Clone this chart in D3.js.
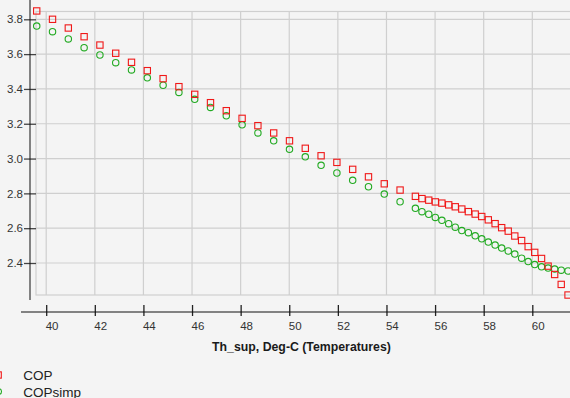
<!DOCTYPE html>
<html>
<head>
<meta charset="utf-8">
<script src="https://cdn.jsdelivr.net/npm/d3@7"></script>
<style>
  html, body { margin: 0; padding: 0; background: #f4f4f4; }
  svg { display: block; }
  text { font-family: "Liberation Sans", Arial, sans-serif; }
</style>
</head>
<body>
<div id="chart"></div>
<script>
// Th_sup, Deg-C
const temps = [
  39.61, 40.26, 40.91, 41.56, 42.21, 42.86, 43.51, 44.16, 44.81, 45.46, 46.11, 46.76,
  47.41, 48.06, 48.71, 49.36, 50.01, 50.66, 51.31, 51.96, 52.61, 53.26, 53.91, 54.56,
  55.19, 55.46, 55.74, 56.01, 56.28, 56.56, 56.83, 57.10, 57.37, 57.65, 57.92, 58.19,
  58.47, 58.74, 59.01, 59.28, 59.56, 59.83, 60.10, 60.38, 60.65, 60.92, 61.19, 61.47
];
const cop = [
  3.848, 3.800, 3.750, 3.700, 3.652, 3.605, 3.553, 3.505, 3.459, 3.413, 3.369, 3.321,
  3.275, 3.231, 3.189, 3.147, 3.102, 3.059, 3.016, 2.978, 2.938, 2.895, 2.855, 2.819,
  2.783, 2.770, 2.761, 2.751, 2.744, 2.734, 2.723, 2.710, 2.695, 2.681, 2.667, 2.648,
  2.626, 2.603, 2.583, 2.555, 2.529, 2.494, 2.461, 2.426, 2.382, 2.334, 2.277, 2.216
];
const copSimp = [
  3.761, 3.729, 3.687, 3.637, 3.595, 3.551, 3.509, 3.464, 3.421, 3.380, 3.340, 3.294,
  3.246, 3.194, 3.147, 3.102, 3.053, 3.010, 2.961, 2.917, 2.875, 2.838, 2.796, 2.752,
  2.714, 2.695, 2.680, 2.662, 2.645, 2.626, 2.606, 2.586, 2.574, 2.556, 2.539, 2.520,
  2.503, 2.486, 2.469, 2.451, 2.428, 2.408, 2.391, 2.378, 2.371, 2.365, 2.359, 2.354
];
const xTicks = [40, 42, 44, 46, 48, 50, 52, 54, 56, 58, 60];
const yTicks = [2.4, 2.6, 2.8, 3.0, 3.2, 3.4, 3.6, 3.8];
const seriesNames = ["COP", "COPsimp"];

const W = 570, H = 398;
const red = "#f01818", green = "#22aa22";

const svg = d3.select("#chart").append("svg")
  .attr("width", W).attr("height", H);

svg.append("rect").attr("width", W).attr("height", H).attr("fill", "#f4f4f4");

const x = d3.scaleLinear().domain([40, 60]).range([46.2, 532.3]);
const y = d3.scaleLinear().domain([2.4, 3.8]).range([263, 19.3]);

const plot = { left: 36, top: 11.5, bottom: 295 };

// grid
const grid = svg.append("g").attr("stroke", "#cfcfcf").attr("stroke-width", 1.2);
grid.selectAll(".gx").data(xTicks).enter().append("line")
  .attr("x1", d => x(d)).attr("x2", d => x(d))
  .attr("y1", plot.top).attr("y2", plot.bottom);
grid.selectAll(".gy").data(yTicks).enter().append("line")
  .attr("x1", plot.left).attr("x2", W + 5)
  .attr("y1", d => y(d)).attr("y2", d => y(d));
svg.append("rect")
  .attr("x", plot.left).attr("y", plot.top)
  .attr("width", W + 10 - plot.left).attr("height", plot.bottom - plot.top)
  .attr("fill", "none").attr("stroke", "#cfcfcf").attr("stroke-width", 1.2);

// y axis
const yAxis = svg.append("g")
  .attr("transform", `translate(${plot.left},0)`)
  .call(d3.axisLeft(y).tickValues(yTicks).tickSize(12).tickPadding(1).tickFormat(d3.format(".1f")));
yAxis.select(".domain").remove();
yAxis.selectAll("line").attr("stroke", "#444").attr("stroke-width", 1.3);
yAxis.selectAll("text").attr("fill", "#333").style("font-size", "11.5px")
  .style("font-family", "'Liberation Sans', Arial, sans-serif");
svg.append("line").attr("x1", 30).attr("x2", 30).attr("y1", 0).attr("y2", 300)
  .attr("stroke", "#111").attr("stroke-width", 1);

// x axis
const xAxis = svg.append("g")
  .attr("transform", "translate(0,305)")
  .call(d3.axisBottom(x).tickValues(xTicks).tickSize(11).tickFormat(d3.format("d")));
xAxis.select(".domain").remove();
xAxis.selectAll("line").attr("stroke", "#222").attr("stroke-width", 1.3);
xAxis.selectAll("text").attr("fill", "#333").style("font-size", "11.5px")
  .style("font-family", "'Liberation Sans', Arial, sans-serif")
  .attr("text-anchor", "start").attr("x", -1).attr("y", 25).attr("dy", null);
svg.append("line").attr("x1", 21).attr("x2", W).attr("y1", 312).attr("y2", 312)
  .attr("stroke", "#111").attr("stroke-width", 1);

svg.append("text")
  .attr("x", 301.5).attr("y", 351)
  .attr("text-anchor", "middle")
  .style("font-size", "12.3px").style("font-weight", "bold")
  .attr("fill", "#1a1a1a")
  .text("Th_sup, Deg-C (Temperatures)");

// points
const pts = temps.map((t, i) => ({ t, cop: cop[i], simp: copSimp[i] }));
const s = 6.3;

svg.append("g").selectAll("circle").data(pts).enter().append("circle")
  .attr("cx", d => x(d.t)).attr("cy", d => y(d.simp)).attr("r", 3.2)
  .attr("fill", "none").attr("stroke", green).attr("stroke-width", 1.1);

svg.append("g").selectAll("rect").data(pts).enter().append("rect")
  .attr("x", d => x(d.t) - s / 2).attr("y", d => y(d.cop) - s / 2)
  .attr("width", s).attr("height", s)
  .attr("fill", "none").attr("stroke", red).attr("stroke-width", 1.1);

// legend
const legend = svg.append("g");
seriesNames.forEach((name, i) => {
  const ly = 375 + i * 16.5;
  if (i === 0) {
    legend.append("rect").attr("x", -5).attr("y", ly - s / 2).attr("width", s).attr("height", s)
      .attr("fill", "none").attr("stroke", red).attr("stroke-width", 1.1);
  } else {
    legend.append("circle").attr("cx", -1.5).attr("cy", ly).attr("r", 3)
      .attr("fill", "none").attr("stroke", green).attr("stroke-width", 1.1);
  }
  legend.append("text").attr("x", 23.3).attr("y", ly + 5)
    .style("font-size", "13.5px").attr("fill", "#222").text(name);
});
</script>
</body>
</html>
